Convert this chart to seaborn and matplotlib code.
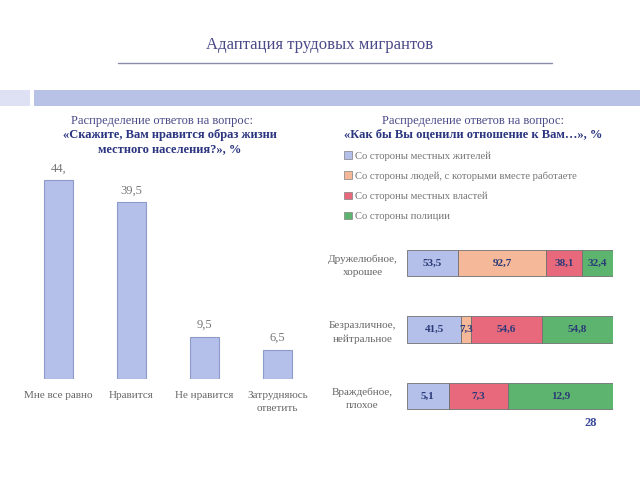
import matplotlib
matplotlib.use("Agg")
import matplotlib.pyplot as plt
from matplotlib.patches import Rectangle, Patch
from matplotlib.lines import Line2D
import seaborn as sns
import pandas as pd
import numpy as np

# ---- data ----
left_categories = ["Мне все равно", "Нравится", "Не нравится", "Затрудняюсь\nответить"]
left_values = [44.5, 39.5, 9.5, 6.5]
left_labels = ["44,", "39,5", "9,5", "6,5"]

right_categories = ["Дружелюбное,\nхорошее", "Безразличное,\nнейтральное", "Враждебное,\nплохое"]
series_names = ["Со стороны местных жителей",
                "Со стороны людей, с которыми вместе работаете",
                "Со стороны местных властей",
                "Со стороны полиции"]
s_locals = [53.5, 41.5, 5.1]
s_coworkers = [92.7, 7.3, 0.0]
s_authorities = [38.1, 54.6, 7.3]
s_police = [32.4, 54.8, 12.9]

sns.set_style("white")
plt.rcParams['font.family'] = ['Liberation Serif', 'DejaVu Serif']

fig = plt.figure(figsize=(6.4, 4.8), dpi=100)
W, H = 640, 480

def fx(x): return x / W
def fy(y): return 1 - y / H

# header
fig.text(fx(320), fy(45), "Адаптация трудовых мигрантов", ha="center", va="center",
         fontsize=12, color="#4A4A88")
fig.add_artist(Line2D([fx(118), fx(552)], [fy(63), fy(63)], color="#8A8AAA", lw=1))
fig.add_artist(Rectangle((fx(0), fy(106)), fx(30), 16 / H, color="#DDE1F3", lw=0))
fig.add_artist(Rectangle((fx(34), fy(106)), fx(606), 16 / H, color="#B8C2E7", lw=0))
fig.text(fx(591), fy(423), "28", ha="center", va="center", fontsize=9,
         fontweight="bold", color="#3A4A9A")

# ---- left chart ----
axL = fig.add_axes([fx(22), fy(379), fx(292), (379 - 155.5) / H])
dfL = pd.DataFrame({"cat": left_categories, "val": left_values})
sns.barplot(data=dfL, x="cat", y="val", ax=axL, color="#B4C0EA", width=0.4,
            edgecolor="#8E9AC8", linewidth=0.8, saturation=1)
axL.set_ylim(0, 50)
axL.set_xlim(-0.5, 3.5)
for i, (v, lab) in enumerate(zip(left_values, left_labels)):
    axL.text(i, v + 1.3, lab, ha="center", va="bottom", fontsize=9, color="#777777")
for s in axL.spines.values():
    s.set_visible(False)
axL.set_yticks([])
axL.set_ylabel("")
axL.set_xlabel("")
axL.tick_params(axis="x", length=0, labelsize=8, labelcolor="#666666", pad=9)
for t in axL.get_xticklabels():
    t.set_linespacing(1.5)
axL.set_xticks(np.arange(-0.5, 4, 1.0), minor=True)
axL.tick_params(axis="x", which="minor", length=3, color="#999999", width=0.6)

fig.text(fx(162), fy(121), "Распределение ответов на вопрос:", ha="center", va="center",
         fontsize=9, color="#4A4A88")
fig.text(fx(170), fy(142), "«Скажите, Вам нравится образ жизни\nместного населения?», %",
         ha="center", va="center", fontsize=9, fontweight="bold", color="#2B3580",
         linespacing=1.3)

# ---- right chart ----
fig.text(fx(473), fy(121), "Распределение ответов на вопрос:", ha="center", va="center",
         fontsize=9, color="#4A4A88")
fig.text(fx(473), fy(135), "«Как бы Вы оценили отношение к Вам…», %", ha="center",
         va="center", fontsize=9, fontweight="bold", color="#2B3580")

axR = fig.add_axes([fx(407), fy(429), fx(206), 199 / H])
colors = ["#B4C0EA", "#F5B898", "#E8687C", "#5DB46E"]
series = [s_locals, s_coworkers, s_authorities, s_police]
mat = np.array(series, dtype=float)  # series x rows
totals = mat.sum(axis=0)
pct = mat / totals * 100
left = np.zeros(len(right_categories))
ypos = np.arange(len(right_categories))
for si in range(len(series)):
    axR.barh(ypos, pct[si], left=left, height=0.4, color=colors[si],
             edgecolor="#707070", linewidth=0.6)
    for ri in range(len(right_categories)):
        if mat[si, ri] > 0:
            axR.text(left[ri] + pct[si, ri] / 2, ypos[ri],
                     f"{mat[si, ri]:.1f}".replace(".", ","),
                     ha="center", va="center", fontsize=8, fontweight="bold",
                     color="#2B3A78")
    left = left + pct[si]
axR.set_xlim(0, 100)
axR.set_ylim(2.5, -0.5)
axR.set_yticks(ypos)
axR.set_yticklabels(right_categories, fontsize=8, color="#666666", ha="center",
                    multialignment="center", linespacing=1.5)
axR.tick_params(axis="y", length=0, pad=32)
axR.set_yticks(np.arange(-0.5, 3, 1.0), minor=True)
axR.tick_params(axis="y", which="minor", length=2, color="#999999", width=0.6)
axR.set_xticks([])
for s in axR.spines.values():
    s.set_visible(False)

handles = [Patch(facecolor=c, edgecolor="#808080", linewidth=0.5) for c in colors]
fig.legend(handles, series_names, loc="upper left", bbox_to_anchor=(fx(340), fy(147)),
           frameon=False, fontsize=7.7, labelcolor="#777777", handlelength=0.7,
           handleheight=0.7, handletextpad=0.3, labelspacing=1.0, borderaxespad=0)

fig.savefig("out.png", dpi=100, facecolor="white")
